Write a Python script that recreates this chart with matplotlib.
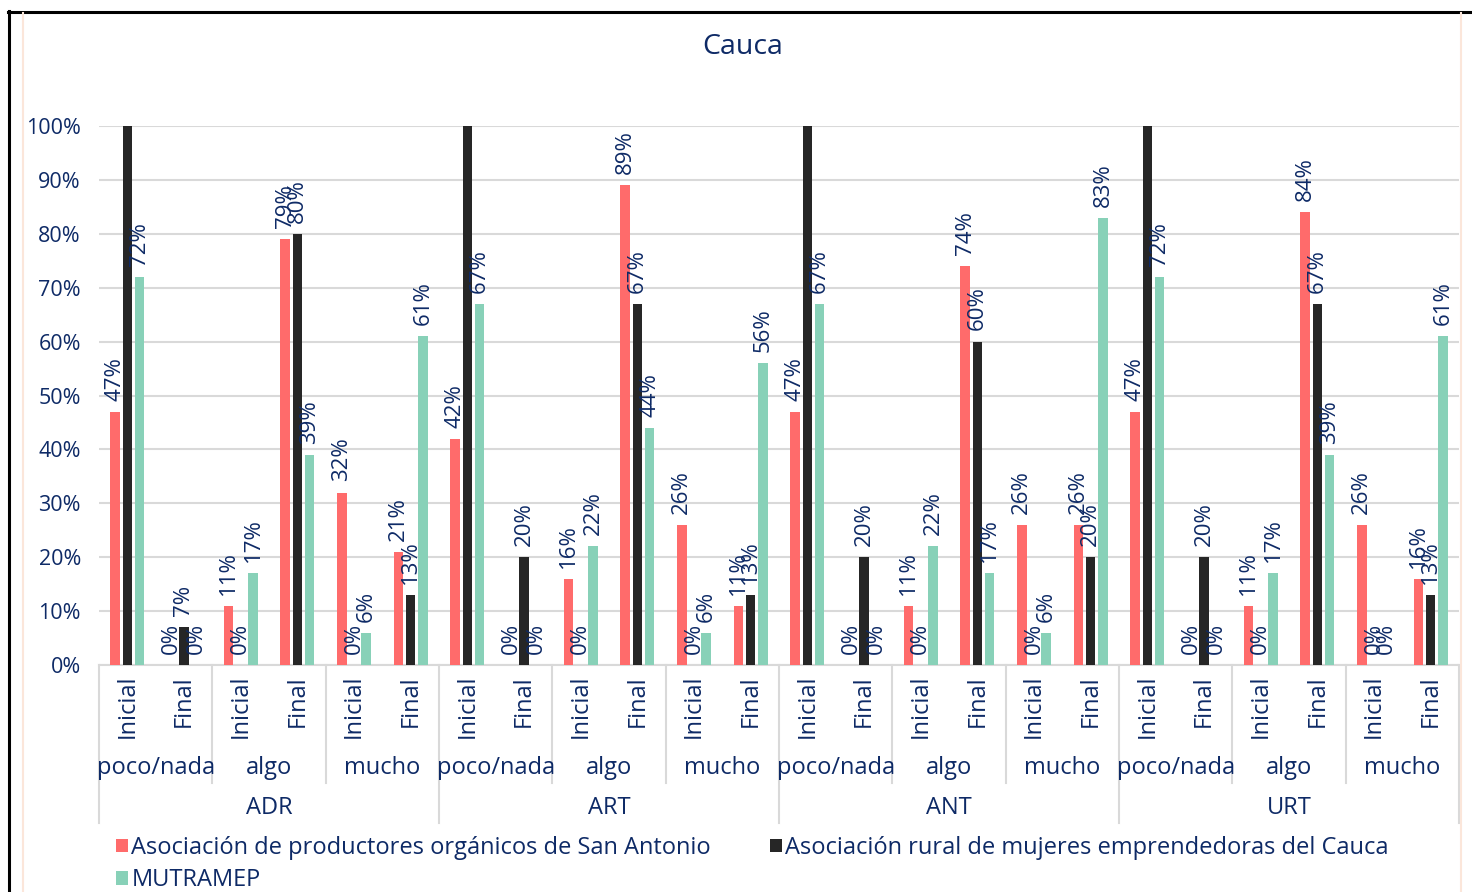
import matplotlib.pyplot as plt
import numpy as np
from matplotlib.lines import Line2D

plt.rcParams['font.family'] = ['Open Sans', 'DejaVu Sans']

# data (percent), order: entity > level > moment
entities = ['ADR', 'ART', 'ANT', 'URT']
levels = ['poco/nada', 'algo', 'mucho']
moments = ['Inicial', 'Final']

series_names = ['Asociación de productores orgánicos de San Antonio',
                'Asociación rural de mujeres emprendedoras del Cauca',
                'MUTRAMEP']
san_antonio = [47, 0, 11, 79, 32, 21,
               42, 0, 16, 89, 26, 11,
               47, 0, 11, 74, 26, 26,
               47, 0, 11, 84, 26, 16]
mujeres_cauca = [100, 7, 0, 80, 0, 13,
                 100, 20, 0, 67, 0, 13,
                 100, 20, 0, 60, 0, 20,
                 100, 20, 0, 67, 0, 13]
mutramep = [72, 0, 17, 39, 6, 61,
            67, 0, 22, 44, 6, 56,
            67, 0, 22, 17, 6, 83,
            72, 0, 17, 39, 0, 61]

colors = ['#FF6B6B', '#262626', '#88D1B8']
navy = '#0E2A66'
grid_col = '#D9D9D9'
fs_tick = 15.5
fs_lab = 16
fs_cat = 17

W, H = 1472, 892
fig = plt.figure(figsize=(W / 100, H / 100), dpi=100)
ax = fig.add_axes([99 / W, 1 - 665 / H, (1459 - 99) / W, (665 - 126) / H])

n = len(san_antonio)
x = np.arange(n)
offsets = [-0.217, 0, 0.217]
for vals, off, col, name in zip([san_antonio, mujeres_cauca, mutramep], offsets, colors, series_names):
    ax.bar(x + off, vals, width=0.17, color=col, label=name, zorder=3)
    for xi, v in zip(x, vals):
        if v >= 100:
            continue
        ax.annotate(f'{v}%', (xi + off, v), xytext=(0, 8), textcoords='offset points',
                    rotation=90, ha='center', va='bottom', fontsize=fs_lab, color=navy, zorder=4)

ax.set_xlim(-0.5, n - 0.5)
ax.set_ylim(0, 100)
ax.set_yticks(np.arange(0, 101, 10))
ax.set_yticklabels([f'{t}%' for t in range(0, 101, 10)], fontsize=fs_tick, color=navy)
ax.tick_params(axis='y', length=0, pad=13)
ax.set_xticks([])
ax.grid(axis='y', color=grid_col, linewidth=1.5, zorder=0)
for s in ['top', 'left', 'right']:
    ax.spines[s].set_visible(False)
ax.spines['bottom'].set_color(grid_col)
ax.spines['bottom'].set_linewidth(1.5)

# multi-level category axis
tr = ax.get_xaxis_transform()
y_lvl1 = -10 / 539
y_lvl2 = -(768 - 665) / 539
y_lvl3 = -(808 - 665) / 539
y_sep_in = -(783 - 665) / 539
y_sep_out = -(823 - 665) / 539
for i in range(n):
    ax.text(x[i], y_lvl1, moments[i % 2], transform=tr, rotation=90,
            ha='center', va='top', fontsize=fs_cat, color=navy)
for j in range(n // 2):
    ax.text(2 * j + 0.5, y_lvl2, levels[j % 3], transform=tr,
            ha='center', va='center', fontsize=fs_cat, color=navy)
for k, ent in enumerate(entities):
    ax.text(6 * k + 2.5, y_lvl3, ent, transform=tr,
            ha='center', va='center', fontsize=fs_cat, color=navy)
for b in range(n // 2 + 1):
    xb = 2 * b - 0.5
    yb = y_sep_out if b % 3 == 0 else y_sep_in
    ax.plot([xb, xb], [0, yb], transform=tr, color=grid_col, lw=1.5, clip_on=False)

fig.text(743 / W, 1 - 47 / H, 'Cauca', ha='center', va='center', fontsize=20.5, color=navy)

# legend, row-wise order like the original
h, l = ax.get_legend_handles_labels()
order = [0, 2, 1]
leg = fig.legend([h[i] for i in order], [l[i] for i in order], ncol=2,
                 loc='upper left', bbox_to_anchor=(116 / W, 1 - 836 / H),
                 frameon=False, fontsize=fs_cat, labelcolor=navy,
                 handlelength=0.5, handleheight=0.5, handletextpad=0.15,
                 columnspacing=2.5, labelspacing=0.35, borderaxespad=0, borderpad=0)

# frame lines
fig.add_artist(Line2D([8.5 / W, 8.5 / W], [0, 1 - 11 / H], color='black', lw=2.2))
fig.add_artist(Line2D([8 / W, 1], [1 - 11.5 / H, 1 - 11.5 / H], color='black', lw=2.2))
fig.add_artist(Line2D([23 / W, 23 / W], [0, 1 - 13 / H], color='#FBE6DA', lw=1.5))
fig.add_artist(Line2D([1461 / W, 1461 / W], [0, 1 - 13 / H], color='#FBE6DA', lw=1.5))

fig.savefig('out.png', dpi=100)
